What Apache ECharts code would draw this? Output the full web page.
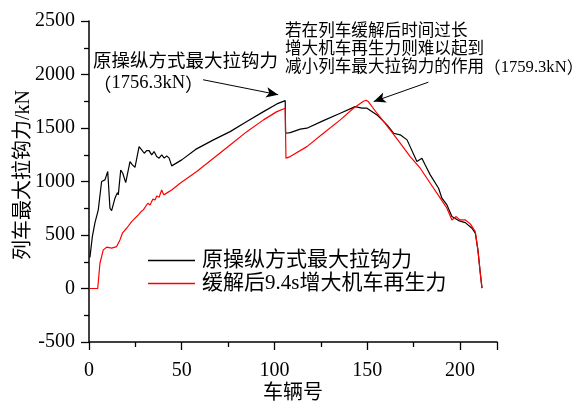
<!DOCTYPE html>
<html>
<head>
<meta charset="utf-8">
<script src="https://cdn.jsdelivr.net/npm/echarts@6/dist/echarts.min.js"></script>
<style>html,body{margin:0;padding:0;background:#fff}#c{width:576px;height:405px}</style>
</head>
<body>
<div id="c"></div>
<script>
var seriesNames = ['原操纵方式最大拉钩力', '缓解后9.4s增大机车再生力'];
var xAxisTitle = '车辆号';
var yAxisTitle = '列车最大拉钩力/kN';
var blackX = [0.5, 1.8, 3.2, 5, 6.8, 7.7, 8.6, 10.1, 11.3, 12.2, 14, 15.3, 15.8, 17.1, 18.2, 19.8, 22.1, 23.4, 24.8, 27, 28.4, 29.8, 31.1, 32.4, 33.8, 35.1, 36.5, 37.8, 39.2, 40.6, 41.9, 43.2, 44.6, 45.5, 50, 57.5, 67.1, 76.1, 85.1, 94.1, 101.3, 105.8, 106, 108.5, 113.9, 117.5, 126.4, 135.5, 143.5, 147.2, 149.9, 155.3, 160.7, 164.2, 167.8, 171.5, 176.8, 179.5, 181.3, 184, 188.5, 190.3, 193, 195.7, 199.3, 202.9, 206.5, 208.3, 209.7, 211, 211.9];
var blackY = [290, 485, 613, 735, 1000, 984, 1015, 1093, 750, 728, 844, 896, 875, 1108, 1077, 990, 1186, 1155, 1133, 1326, 1295, 1264, 1289, 1289, 1249, 1280, 1233, 1218, 1249, 1218, 1239, 1218, 1146, 1146, 1202, 1300, 1389, 1466, 1560, 1653, 1725, 1756, 1451, 1457, 1489, 1498, 1569, 1638, 1700, 1685, 1685, 1622, 1529, 1451, 1436, 1389, 1186, 1218, 1155, 1062, 937, 844, 781, 672, 635, 616, 563, 517, 361, 143, 3];
var redX = [0.5, 4.7, 5.9, 7.7, 9.5, 12.2, 14.9, 16.7, 18, 20.3, 23, 24.8, 26.6, 28.1, 29.3, 30.2, 31.7, 32.9, 34.4, 35.6, 36.5, 37.8, 39.2, 40.3, 44.6, 49.1, 58.1, 67.1, 76.1, 85.1, 94.1, 101.3, 105.8, 106.2, 108.5, 117.5, 126.4, 135.5, 142.6, 148, 149.5, 150.7, 155.3, 162.4, 167.8, 173.2, 178.6, 184, 189.4, 193, 195.7, 198, 199.9, 202.9, 205.6, 208.3, 209.7, 211, 211.9];
var redY = [0, 0, 236, 361, 386, 377, 392, 454, 517, 563, 625, 657, 688, 719, 735, 728, 797, 781, 835, 828, 865, 853, 921, 875, 921, 984, 1093, 1218, 1342, 1466, 1576, 1653, 1685, 1218, 1233, 1326, 1451, 1576, 1685, 1750, 1759, 1745, 1638, 1482, 1358, 1233, 1124, 984, 844, 750, 641, 672, 641, 641, 604, 532, 361, 143, 3];
var xTicks = {min: 0, max: 220, interval: 50};
var yTicks = {min: -500, max: 2500, interval: 500};
var arrow1 = [[61.5, 1951], [102, 1811]];
var arrow2 = [[183, 1928], [153.5, 1747]];
var note1 = '原操纵方式最大拉钩力\n{p|（}1756.3kN{p|）}';
var note2 = '若在列车缓解后时间过长\n增大机车再生力则难以起到\n减小列车最大拉钩力的作用{p|（}1759.3kN{p|）}';

var FONT = "'Liberation Serif', 'Noto Sans CJK SC', serif";
var CJK = "'Noto Sans CJK SC', sans-serif";
function pairs(xs, ys) { return xs.map(function (x, i) { return [x, ys[i]]; }); }

var chart = echarts.init(document.getElementById('c'), null, {renderer: 'canvas'});
chart.setOption({
  animation: false,
  backgroundColor: '#fff',
  grid: {left: 89, right: 79, top: 21, bottom: 63, containLabel: false, outerBoundsMode: 'none'},
  xAxis: {
    type: 'value', min: xTicks.min, max: xTicks.max, interval: xTicks.interval,
    axisLine: {onZero: false, lineStyle: {color: '#000', width: 1.5}},
    axisTick: {inside: false, length: 8, lineStyle: {color: '#000', width: 1.3}},
    minorTick: {show: true, splitNumber: 2, length: 5, lineStyle: {color: '#000', width: 1.3}},
    axisLabel: {fontFamily: FONT, fontSize: 20, color: '#000', margin: 19, showMaxLabel: false,
      formatter: function (v) { return String(v); }},
    splitLine: {show: false}
  },
  yAxis: {
    type: 'value', min: yTicks.min, max: yTicks.max, interval: yTicks.interval,
    axisLine: {show: true, onZero: false, lineStyle: {color: '#000', width: 1.5}},
    axisTick: {show: true, inside: false, length: 8, lineStyle: {color: '#000', width: 1.3}},
    minorTick: {show: true, splitNumber: 2, length: 5, lineStyle: {color: '#000', width: 1.3}},
    axisLabel: {fontFamily: FONT, fontSize: 20, color: '#000', margin: 14,
      formatter: function (v) { return String(v); }},
    splitLine: {show: false}
  },
  legend: {
    orient: 'vertical', left: 143, top: 245, itemWidth: 47, itemHeight: 1.4, itemGap: 2,
    icon: 'rect',
    textStyle: {fontFamily: FONT, fontSize: 21, color: '#000', lineHeight: 21, padding: [0, 0, 0, 2]},
    data: seriesNames
  },
  series: [
    {
      name: seriesNames[0], type: 'line', data: pairs(blackX, blackY),
      symbol: 'none', lineStyle: {color: '#000', width: 1.2}, itemStyle: {color: '#000'},
      markLine: {
        silent: true, symbol: ['none', 'arrow'], symbolSize: [8, 12],
        label: {show: false},
        lineStyle: {color: '#000', width: 1, type: 'solid'},
        data: [
          [{coord: arrow1[0]}, {coord: arrow1[1]}],
          [{coord: arrow2[0]}, {coord: arrow2[1]}]
        ]
      }
    },
    {
      name: seriesNames[1], type: 'line', data: pairs(redX, redY),
      symbol: 'none', lineStyle: {color: '#ff0000', width: 1.2}, itemStyle: {color: '#ff0000'}
    }
  ],
  graphic: [
    {type: 'text', x: 293, y: 394, style: {text: xAxisTitle, font: "20px " + FONT, fill: '#000',
      textAlign: 'center', textVerticalAlign: 'middle'}},
    {type: 'text', x: 24, y: 175, rotation: Math.PI / 2, style: {text: yAxisTitle, font: "20px " + FONT, fill: '#000',
      textAlign: 'center', textVerticalAlign: 'middle'}},
    {type: 'text', left: 93, top: 52, style: {text: note1, font: "18.5px " + FONT, fill: '#000', lineHeight: 21,
      rich: {p: {fontFamily: CJK, fontSize: 18.5, lineHeight: 21}}}},
    {type: 'text', left: 285, top: 23, style: {text: note2, font: "16.6px " + FONT, fill: '#000', lineHeight: 18,
      rich: {p: {fontFamily: CJK, fontSize: 16.6, lineHeight: 18}}}}
  ]
});
</script>
</body>
</html>
